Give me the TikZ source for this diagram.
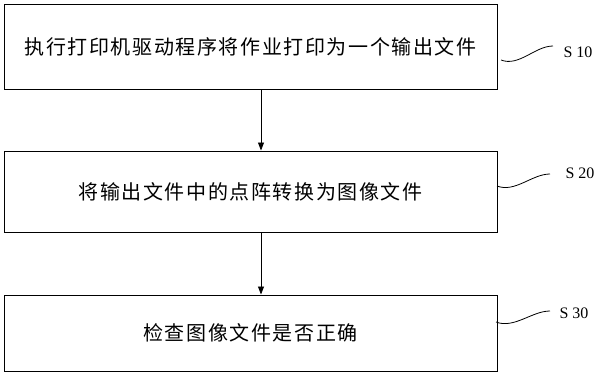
\documentclass[tikz,border=0pt]{standalone}
\usepackage{fontspec}
\setmainfont{Liberation Serif}
\newfontfamily\cjk[LetterSpace=8]{Noto Sans CJK SC}
\usetikzlibrary{arrows.meta}

\begin{document}
\begin{tikzpicture}[x=1pt,y=-1pt,
  stepbox/.style={draw,line width=1pt,minimum width=493pt,inner sep=0pt,
    font=\cjk\fontsize{20}{20}\selectfont},
  flow/.style={-{Triangle[length=8pt,width=6pt]},line width=0.8pt},
  lead/.style={line width=0.8pt},
  tag/.style={font=\fontsize{16}{16}\selectfont,inner sep=0pt}]
  \useasboundingbox (0,0) rectangle (600,378);
  % steps
  \node[stepbox,minimum height=85pt] (b1) at (250.5,46.5) {执行打印机驱动程序将作业打印为一个输出文件};
  \node[stepbox,minimum height=81pt] (b2) at (250.5,191.5) {将输出文件中的点阵转换为图像文件};
  \node[stepbox,minimum height=76pt] (b3) at (250.5,333) {检查图像文件是否正确};
  \draw[flow] ([xshift=10.5pt]b1.south) -- ([xshift=10.5pt]b2.north);
  \draw[flow] ([xshift=10.5pt]b2.south) -- ([xshift=10.5pt]b3.north);
  % step labels
  \node[tag] (s1) at (578,52) {S 10};
  \node[tag] (s2) at (580,173) {S 20};
  \node[tag] (s3) at (574,313) {S 30};
  \coordinate (l1a) at (501,60);  \coordinate (l1b) at (553,46);
  \coordinate (l2a) at (497,186); \coordinate (l2b) at (550,174);
  \coordinate (l3a) at (496,322); \coordinate (l3b) at (550,311);
  \foreach \i in {1,2,3}
    \draw[lead] (l\i a) .. controls +(18,7) and +(-18,0) .. (l\i b);
\end{tikzpicture}
\end{document}
